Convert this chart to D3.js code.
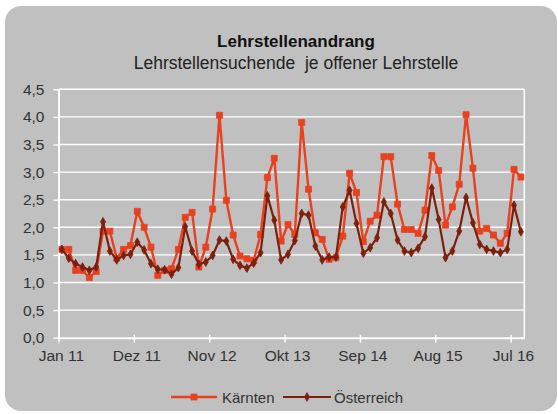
<!DOCTYPE html>
<html>
<head>
<meta charset="utf-8">
<script src="https://cdn.jsdelivr.net/npm/d3@7/dist/d3.min.js"></script>
<style>
  html, body { margin: 0; padding: 0; background: #ffffff; }
  svg { display: block; }
  text { font-family: "Liberation Sans", Arial, sans-serif; }
</style>
</head>
<body>
<svg id="chart" width="558" height="414"></svg>
<script>
// ---------- DATA ----------
const categories = [
  "Jan 11","Feb 11","Mär 11","Apr 11","Mai 11","Jun 11","Jul 11","Aug 11","Sep 11","Okt 11","Nov 11","Dez 11",
  "Jan 12","Feb 12","Mär 12","Apr 12","Mai 12","Jun 12","Jul 12","Aug 12","Sep 12","Okt 12","Nov 12","Dez 12",
  "Jan 13","Feb 13","Mär 13","Apr 13","Mai 13","Jun 13","Jul 13","Aug 13","Sep 13","Okt 13","Nov 13","Dez 13",
  "Jan 14","Feb 14","Mär 14","Apr 14","Mai 14","Jun 14","Jul 14","Aug 14","Sep 14","Okt 14","Nov 14","Dez 14",
  "Jan 15","Feb 15","Mär 15","Apr 15","Mai 15","Jun 15","Jul 15","Aug 15","Sep 15","Okt 15","Nov 15","Dez 15",
  "Jan 16","Feb 16","Mär 16","Apr 16","Mai 16","Jun 16","Jul 16","Aug 16"
];
const tickLabels = ["Jan 11","Dez 11","Nov 12","Okt 13","Sep 14","Aug 15","Jul 16"];
const yTicks = [0, 0.5, 1, 1.5, 2, 2.5, 3, 3.5, 4, 4.5];
const seriesNames = ["Kärnten", "Österreich"];
const kaernten = [
  1.60,1.60,1.22,1.22,1.09,1.20,1.93,1.93,1.44,1.60,1.67,2.29,
  2.00,1.64,1.13,1.22,1.25,1.60,2.18,2.27,1.28,1.64,2.33,4.03,
  2.49,1.86,1.48,1.43,1.40,1.87,2.90,3.25,1.75,2.05,1.87,3.90,
  2.69,1.90,1.78,1.42,1.45,1.84,2.98,2.63,1.74,2.11,2.22,3.28,
  3.28,2.42,1.96,1.96,1.89,2.31,3.30,3.03,2.04,2.37,2.78,4.04,
  3.07,1.93,1.98,1.86,1.71,1.89,3.05,2.91
];
const oesterreich = [
  1.60,1.44,1.34,1.28,1.22,1.28,2.10,1.57,1.41,1.49,1.51,1.73,
  1.59,1.34,1.24,1.23,1.15,1.27,2.01,1.57,1.33,1.37,1.49,1.77,
  1.75,1.42,1.31,1.26,1.35,1.54,2.57,2.13,1.41,1.51,1.76,2.25,
  2.22,1.66,1.41,1.46,1.46,2.37,2.67,2.07,1.53,1.63,1.81,2.46,
  2.25,1.77,1.57,1.54,1.62,1.83,2.71,2.14,1.45,1.57,1.93,2.54,
  2.08,1.69,1.60,1.57,1.54,1.60,2.40,1.92
];

// ---------- STYLE ----------
const colKaernten = "#e9401f";
const colOesterreich = "#7d1f0c";
const bg = "#c0c0c0";
const textCol = "#333333";

const svg = d3.select("#chart");
const plot = { left: 58.5, right: 524.3, top: 89.3, bottom: 337.7 };

// outer panel
svg.append("rect")
  .attr("x", 5).attr("y", 6).attr("width", 552).attr("height", 405)
  .attr("rx", 16).attr("ry", 16)
  .attr("fill", bg);

// scales
const xBand = d3.scaleBand().domain(d3.range(categories.length))
  .range([plot.left, plot.right]).paddingInner(0).paddingOuter(0);
const xEdge = d3.scaleLinear().domain([0, categories.length]).range([plot.left, plot.right]);
const bw = xBand.bandwidth();
const xc = i => xBand(i) + bw / 2;
const y = d3.scaleLinear().domain([0, 4.5]).range([plot.bottom, plot.top]);

// gridlines
svg.append("g").selectAll("line").data(yTicks.filter(d => d > 0)).join("line")
  .attr("x1", plot.left).attr("x2", plot.right)
  .attr("y1", d => y(d)).attr("y2", d => y(d))
  .attr("stroke", "#ffffff").attr("stroke-width", 1.4);

// right border of plot area
svg.append("line")
  .attr("x1", plot.right).attr("x2", plot.right)
  .attr("y1", plot.top).attr("y2", plot.bottom)
  .attr("stroke", "#ffffff").attr("stroke-width", 1.6);

// y axis
const fmt = d => d3.format(".1f")(d).replace(".", ",");
const yAxis = svg.append("g")
  .attr("transform", `translate(${plot.left},0)`)
  .call(d3.axisLeft(y).tickValues(yTicks).tickFormat(fmt).tickSizeInner(5).tickSizeOuter(0).tickPadding(9));
yAxis.select(".domain").attr("stroke", "#ffffff").attr("stroke-width", 2);
yAxis.selectAll(".tick line").attr("stroke", "#ffffff").attr("stroke-width", 1.4);
yAxis.selectAll(".tick text").attr("fill", textCol).attr("font-size", "15.5px")
  .attr("font-family", "'Liberation Sans', Arial, sans-serif");

// x axis
const tickIdx = tickLabels.map(l => categories.indexOf(l));
const xAxis = svg.append("g")
  .attr("transform", `translate(0,${plot.bottom})`)
  .call(d3.axisBottom(xEdge).tickValues(tickIdx)
    .tickFormat(i => categories[i]).tickSizeInner(5).tickSizeOuter(0).tickPadding(7));
xAxis.select(".domain").attr("stroke", "#ffffff").attr("stroke-width", 2);
xAxis.selectAll(".tick line").attr("stroke", "#ffffff").attr("stroke-width", 1.4).attr("y1", -3);
xAxis.selectAll(".tick text").attr("fill", textCol).attr("font-size", "15.5px")
  .attr("font-family", "'Liberation Sans', Arial, sans-serif")
  .attr("dx", bw / 2 - 1);

// lines
const line = d3.line().x((d, i) => xc(i)).y(d => y(d));
const series = [
  { name: seriesNames[0], values: kaernten, color: colKaernten, width: 2.4, sym: d3.symbolSquare, size: 36 },
  { name: seriesNames[1], values: oesterreich, color: colOesterreich, width: 2.2, sym: d3.symbolDiamond, size: 22 }
];
series.forEach(s => {
  svg.append("path").datum(s.values)
    .attr("d", line).attr("fill", "none")
    .attr("stroke", s.color).attr("stroke-width", s.width)
    .attr("stroke-linejoin", "round");
  svg.append("g").selectAll("path").data(s.values).join("path")
    .attr("transform", (d, i) => `translate(${xc(i)},${y(d)})`)
    .attr("d", d3.symbol().type(s.sym).size(s.size))
    .attr("fill", s.color).attr("stroke", s.color).attr("stroke-width", 0.8);
});

// title
svg.append("text").attr("x", 296).attr("y", 47).attr("text-anchor", "middle")
  .attr("font-size", "17px").attr("font-weight", "bold").attr("fill", "#111")
  .text("Lehrstellenandrang");
svg.append("text").attr("x", 296).attr("y", 69).attr("text-anchor", "middle")
  .attr("font-size", "17.5px").attr("fill", "#222")
  .attr("xml:space", "preserve")
  .text("Lehrstellensuchende  je offener Lehrstelle");

// legend
const legY = 397;
const legend = [
  { s: series[0], x1: 171, x2: 217, tx: 222 },
  { s: series[1], x1: 283, x2: 331, tx: 334 }
];
legend.forEach(l => {
  svg.append("line").attr("x1", l.x1).attr("x2", l.x2).attr("y1", legY).attr("y2", legY)
    .attr("stroke", l.s.color).attr("stroke-width", l.s.width);
  svg.append("path").attr("transform", `translate(${(l.x1 + l.x2) / 2},${legY})`)
    .attr("d", d3.symbol().type(l.s.sym).size(l.s.size))
    .attr("fill", l.s.color).attr("stroke", l.s.color).attr("stroke-width", 0.8);
  svg.append("text").attr("x", l.tx).attr("y", legY + 5.5)
    .attr("font-size", "15px").attr("fill", textCol).text(l.s.name);
});
</script>
</body>
</html>
